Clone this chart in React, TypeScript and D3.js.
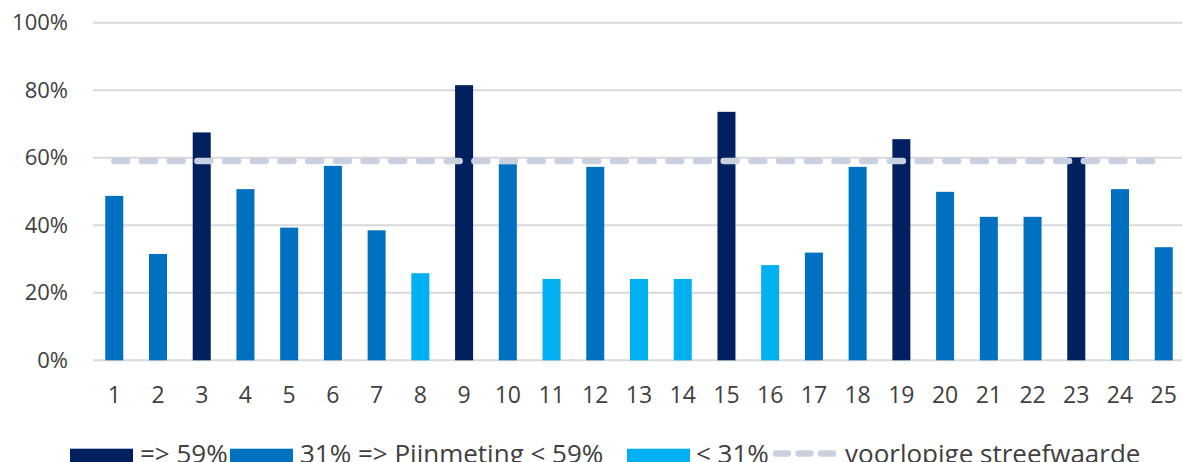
import React from "react";
import * as d3 from "d3";

// Percentage score per location (1..25)
const categories: string[] = Array.from({ length: 25 }, (_, i) => String(i + 1));
const scores: number[] = [
  48.7, 31.5, 67.5, 50.7, 39.3, 57.6, 38.5, 25.8, 81.5, 58.1,
  24.1, 57.3, 24.1, 24.1, 73.6, 28.2, 31.9, 57.3, 65.5, 49.9,
  42.5, 42.5, 60.1, 50.7, 33.5,
];
const target = 59; // voorlopige streefwaarde
const yTicks: number[] = [0, 20, 40, 60, 80, 100];

const legendLabels: string[] = ["=> 59%", "31% => Pijnmeting < 59%", "< 31%", "voorlopige streefwaarde"];

const COLORS = { high: "#002060", mid: "#0070c0", low: "#00b0f0", target: "#c9d1e1", grid: "#d9d9d9", text: "#404040" };

const W = 1182;
const H = 462;
const FONT = "'Open Sans', 'Liberation Sans', sans-serif";

function barColor(v: number): string {
  if (v >= 59) return COLORS.high;
  if (v >= 31) return COLORS.mid;
  return COLORS.low;
}

export default function App() {
  const x = d3.scaleBand<string>().domain(categories).range([92.4, 1185.6]).paddingInner(0.588).paddingOuter(0.294);
  const y = d3.scaleLinear().domain([0, 100]).range([360.3, 22.7]);
  const cx = (c: string) => (x(c) ?? 0) + x.bandwidth() / 2;

  const targetLine = d3.line<string>().x((c) => cx(c)).y(() => y(target))([categories[0], categories[categories.length - 1]]) ?? "";

  const legendBase = 463;
  const legendSize = 26;
  const swatches = [
    { x: 70, w: 63, color: COLORS.high, tx: 140, label: legendLabels[0] },
    { x: 230, w: 63, color: COLORS.mid, tx: 300, label: legendLabels[1] },
    { x: 627, w: 63, color: COLORS.low, tx: 696, label: legendLabels[2] },
  ];

  return (
    <svg width={W} height={H} style={{ position: "absolute", left: 0, top: 0, background: "#fff" }} fontFamily={FONT}>
      {yTicks.map((t) => (
        <g key={t}>
          <line x1={93} x2={W} y1={y(t)} y2={y(t)} stroke={COLORS.grid} strokeWidth={2} />
          <text x={68} y={y(t)} dy="0.35em" textAnchor="end" fontSize={22} fill={COLORS.text}>
            {t}%
          </text>
        </g>
      ))}
      {categories.map((c, i) => (
        <rect key={c} x={x(c)} y={y(scores[i])} width={x.bandwidth()} height={y(0) - y(scores[i])} fill={barColor(scores[i])} />
      ))}
      <path d={targetLine} fill="none" stroke={COLORS.target} strokeWidth={6.5} strokeLinecap="round" strokeDasharray="13 14.7" />
      {categories.map((c) => (
        <text key={c} x={cx(c)} y={402.5} textAnchor="middle" fontSize={23} fill={COLORS.text}>
          {c}
        </text>
      ))}
      {swatches.map((s) => (
        <g key={s.label}>
          <rect x={s.x} y={448.7} width={s.w} height={14} fill={s.color} />
          <text x={s.tx} y={legendBase} fontSize={legendSize} fill={COLORS.text}>
            {s.label}
          </text>
        </g>
      ))}
      <line x1={776} x2={834} y1={453.5} y2={453.5} stroke={COLORS.target} strokeWidth={6.5} strokeLinecap="round" strokeDasharray="12 10.5" />
      <text x={845} y={legendBase} fontSize={legendSize} fill={COLORS.text}>
        {legendLabels[3]}
      </text>
    </svg>
  );
}
